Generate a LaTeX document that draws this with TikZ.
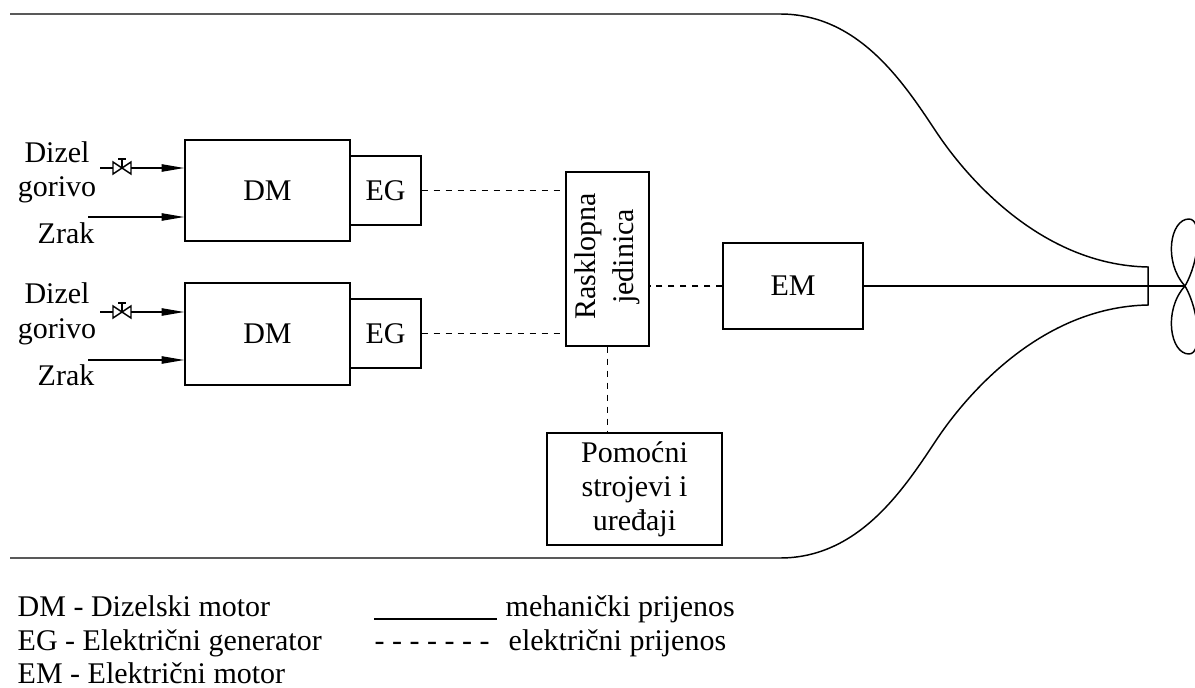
\documentclass[tikz,border=0pt]{standalone}
\usepackage{fontspec}
\setmainfont{Liberation Serif}
\usetikzlibrary{arrows.meta,fit}
\begin{document}
\begin{tikzpicture}[x=0.75pt,y=-0.75pt,
  line width=1.1pt,
  every node/.style={font=\fontsize{22.5pt}{25pt}\selectfont, inner sep=0pt},
  box/.style={draw, inner sep=0pt},
  elec/.style={dash pattern=on 4.5pt off 4.5pt},
  feed/.style={-{Triangle[length=17pt,width=5.5pt]}},
  valve/.pic={\draw (-9,-6)--(9,6)--(9,-6)--(-9,6)--cycle; \draw (0,0)--(0,-9); \draw (-4,-9)--(4,-9);}
]
\useasboundingbox (0,0) rectangle (1195,688);

% hull
\draw (10,14) -- (780,14) .. controls (860,14) and (905,85) .. (937,133)
  .. controls (965,175) and (1040,265) .. (1148,267) -- (1148,305)
  .. controls (1040,307) and (965,397) .. (937,439)
  .. controls (905,487) and (860,558) .. (780,558) -- (10,558);

% boxes
\node[box, fit={(185,140) (350,241)}] (dm1) {};
\node[box, fit={(350,156) (421,225)}] (eg1) {};
\node[box, fit={(185,283) (350,385)}] (dm2) {};
\node[box, fit={(350,299) (421,368)}] (eg2) {};
\node[box, fit={(566,172) (649,346)}] (rj) {};
\node[box, fit={(723,243) (863,329)}] (em) {};
\node[box, fit={(547,433) (722,545)}] (pom) {};
\node (dm1t) at (dm1.center) {DM};
\node (eg1t) at (eg1.center) {EG};
\node (dm2t) at (dm2.center) {DM};
\node (eg2t) at (eg2.center) {EG};
\node (emt) at (em.center) {EM};
\node[rotate=90, align=center, font=\fontsize{22.5pt}{28.5pt}\selectfont] (rjt) at ([yshift=2pt]rj.center) {Rasklopna\\jedinica};
\node[align=center, font=\fontsize{22.5pt}{25.5pt}\selectfont] (pomt) at (pom.center) {Pomoćni\\strojevi i\\uređaji};

% inputs, upper group
\node[anchor=base] (d1) at (57,162) {Dizel};
\node[anchor=base] (g1) at (57,196) {gorivo};
\node[anchor=base] (z1) at (66,243) {Zrak};
\coordinate (f1) at (100,168);
\coordinate (v1) at (122,168);
\coordinate (a1) at (88,217);
\draw (f1) -- ([xshift=-6.75pt]v1);
\pic at (v1) {valve};
\draw[feed] ([xshift=6.75pt]v1) -- (v1 -| dm1.west);
\draw[feed] (a1) -- (a1 -| dm1.west);

% inputs, lower group
\node[anchor=base] (d2) at (57,303) {Dizel};
\node[anchor=base] (g2) at (57,338) {gorivo};
\node[anchor=base] (z2) at (66,385) {Zrak};
\coordinate (f2) at (100,312);
\coordinate (v2) at (122,312);
\coordinate (a2) at (88,360);
\draw (f2) -- ([xshift=-6.75pt]v2);
\pic at (v2) {valve};
\draw[feed] ([xshift=6.75pt]v2) -- (v2 -| dm2.west);
\draw[feed] (a2) -- (a2 -| dm2.west);

% electrical links
\draw[elec] (eg1.east) -- (eg1.east -| rj.west);
\draw[elec] (eg2.east) -- (eg2.east -| rj.west);
\draw[elec] (em.west) -- (em.west -| rj.east);
\draw[elec] (rj.south) -- (rj.south |- pom.north);

% shaft and propeller
\coordinate (hub) at (1185,286);
\draw (em.east) -- (hub);
\draw (hub) .. controls (1163,262) and (1170,219) .. (1189,219)
  .. controls (1203,219) and (1199,262) .. (hub);
\draw (hub) .. controls (1163,310) and (1170,354) .. (1189,354)
  .. controls (1203,354) and (1199,310) .. (hub);

% legend
\node[anchor=base west] (l1) at (17,616) {DM - Dizelski motor};
\node[anchor=base west] (l2) at (17,650) {EG - Električni generator};
\node[anchor=base west] (l3) at (17,683) {EM - Električni motor};
\coordinate (ms) at (374,619);
\coordinate (me) at (497,619);
\draw (ms) -- (me);
\node[anchor=base west] (lm) at (505,616) {mehanički prijenos};
\node[anchor=base west] (ld) at (374,650) {- - - - - - -};
\node[anchor=base west] (le) at (508,650) {električni prijenos};
\end{tikzpicture}
\end{document}
